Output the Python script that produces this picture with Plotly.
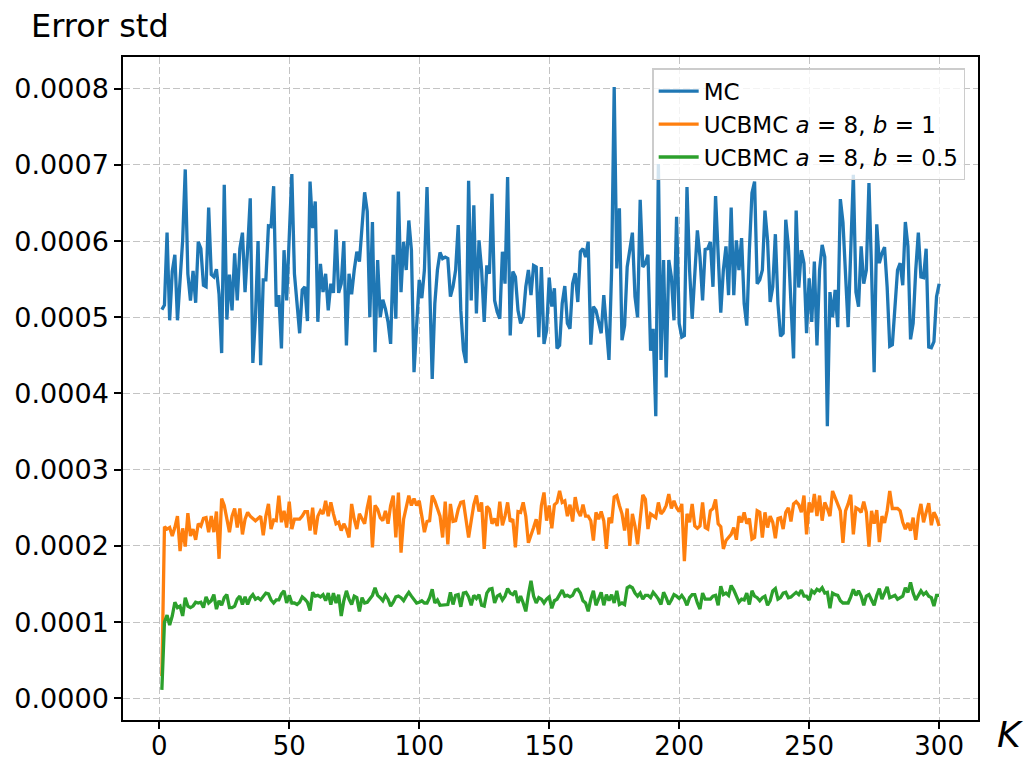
import plotly.graph_objects as go

K = list(range(1, 301))
SCALE = 1e-4  # values below are in units of 1e-4

mc = [
5.10,5.16,6.11,4.96,5.60,5.82,4.96,5.53,6.01,6.94,
5.57,5.22,5.61,5.19,5.99,5.90,5.42,5.40,6.44,5.56,
5.53,5.63,5.30,4.53,6.74,4.97,5.56,5.09,5.84,5.22,
5.90,6.11,5.33,5.90,6.56,4.40,5.00,6.00,4.37,5.49,
5.49,6.20,6.19,6.72,5.14,5.29,4.59,5.88,5.22,6.05,
6.88,5.57,5.18,4.79,5.36,5.40,4.95,6.78,6.17,6.52,
4.94,5.70,5.33,5.57,5.09,5.44,5.32,6.15,5.32,5.44,
6.00,4.63,5.57,5.30,5.62,5.86,5.73,6.23,6.64,6.39,
5.00,6.25,4.54,5.75,5.00,5.23,5.11,4.94,4.65,5.82,
4.98,6.65,5.33,5.99,5.62,6.27,5.88,4.28,4.92,5.49,
5.25,5.62,6.71,5.40,4.19,5.18,5.62,5.85,5.77,5.79,
5.77,5.27,5.40,5.62,6.21,5.09,4.57,4.40,6.79,5.22,
6.47,5.05,6.01,5.62,4.94,5.68,5.57,6.62,5.22,5.07,
4.98,5.86,5.44,6.84,4.76,5.60,5.53,5.09,4.92,5.00,
5.40,5.62,5.29,5.68,5.66,4.74,5.66,4.65,4.83,5.52,
5.14,5.38,4.59,4.63,5.18,5.41,4.92,4.85,5.44,5.58,
5.20,5.86,5.90,5.79,5.99,4.64,5.14,5.09,4.92,4.79,
5.29,4.83,4.44,5.60,8.02,5.64,6.43,4.70,4.89,5.66,
5.86,6.11,5.27,5.00,6.54,5.66,5.71,5.82,4.56,4.85,
3.70,7.01,4.44,5.75,4.21,5.75,5.53,4.96,6.32,4.92,
4.74,4.76,6.71,5.62,4.98,5.66,6.14,5.79,5.22,5.89,
5.90,5.99,5.40,6.59,5.71,5.06,5.62,5.93,5.29,6.44,
5.29,6.01,5.62,6.04,5.18,4.89,5.88,6.63,6.78,5.44,
5.49,5.62,6.40,6.01,5.20,5.40,6.09,5.18,4.75,4.79,
6.28,5.93,5.18,4.46,6.40,5.39,5.88,5.71,4.79,5.51,
4.94,5.73,4.63,5.62,5.95,5.79,3.57,5.33,5.00,5.36,
4.87,6.55,6.25,5.62,4.87,5.88,6.87,5.33,5.14,5.93,
5.44,5.62,6.76,5.62,4.28,6.22,5.71,5.84,5.92,5.40,
4.62,4.64,5.18,5.62,5.71,5.42,6.25,5.93,4.71,4.92,
5.62,6.11,5.53,5.52,5.90,4.61,4.60,4.68,5.27,5.44,
]

ucb_b1 = [
0.29,2.25,2.22,2.24,2.13,2.24,2.39,1.93,2.23,1.99,
2.43,2.13,2.22,2.08,2.29,2.26,2.36,2.37,2.18,2.39,
2.18,2.45,1.83,2.62,2.53,2.33,2.18,2.39,2.49,2.24,
2.49,2.15,2.35,2.44,2.39,2.36,2.33,2.36,2.39,2.14,
2.39,2.55,2.22,2.34,2.33,2.66,2.31,2.46,2.24,2.58,
2.22,2.35,2.35,2.35,2.39,2.45,2.45,2.20,2.50,2.15,
2.39,2.46,2.42,2.59,2.39,2.57,2.42,2.29,2.31,2.20,
2.29,2.22,2.11,2.55,2.35,2.22,2.42,2.35,2.29,2.50,
2.66,1.98,2.53,2.48,2.37,2.33,2.46,2.29,2.53,2.66,
2.11,2.70,1.91,2.35,2.53,2.66,2.53,2.62,2.53,2.59,
2.39,2.18,2.32,2.33,2.66,2.59,2.49,2.39,2.11,2.58,
2.02,2.55,2.32,2.33,2.48,2.57,2.58,2.35,2.11,2.33,
2.54,2.66,2.45,2.57,1.96,2.52,2.48,2.29,2.36,2.26,
2.58,2.27,2.39,2.57,2.32,2.35,1.98,2.45,2.44,2.57,
2.39,2.04,2.13,2.24,2.35,2.15,2.53,2.70,2.33,2.53,
2.23,2.54,2.57,2.72,2.57,2.59,2.39,2.54,2.32,2.64,
2.46,2.39,2.54,2.39,2.39,2.33,2.07,2.44,2.35,2.45,
2.33,1.96,2.37,2.30,2.64,2.66,2.53,2.42,2.20,2.49,
2.00,2.42,2.26,2.02,2.35,2.67,2.61,2.22,2.42,2.39,
2.37,2.57,2.42,2.46,2.53,2.68,2.49,2.59,2.50,2.45,
2.55,1.80,2.42,2.31,2.55,2.26,2.23,2.26,2.57,2.24,
2.22,2.46,2.49,2.61,2.29,2.25,1.96,2.07,2.11,2.15,
2.24,2.08,2.39,2.31,2.44,2.29,2.36,2.09,2.11,2.46,
2.44,2.11,2.44,2.24,2.39,2.31,2.10,2.36,2.37,2.22,
2.44,2.50,2.32,2.55,2.58,2.54,2.44,2.66,2.15,2.57,
2.44,2.68,2.39,2.66,2.33,2.57,2.49,2.39,2.72,2.64,
2.55,2.46,2.04,2.46,2.55,2.67,2.15,2.50,2.48,2.44,
2.58,2.44,1.99,2.46,2.29,2.47,2.05,2.39,2.30,2.46,
2.72,2.49,2.49,2.49,2.46,2.31,2.22,2.30,2.20,2.37,
2.08,2.39,2.55,2.31,2.44,2.56,2.27,2.44,2.37,2.26,
]

ucb_b05 = [
0.11,1.00,1.09,0.96,1.08,1.26,1.19,1.21,1.08,1.32,
1.21,1.19,1.21,1.26,1.25,1.26,1.19,1.33,1.25,1.28,
1.36,1.17,1.28,1.22,1.32,1.36,1.19,1.19,1.21,1.30,
1.34,1.23,1.33,1.23,1.32,1.36,1.30,1.32,1.29,1.34,
1.38,1.37,1.29,1.25,1.29,1.29,1.37,1.41,1.25,1.35,
1.25,1.25,1.23,1.26,1.33,1.30,1.26,1.15,1.39,1.34,
1.35,1.33,1.36,1.28,1.38,1.23,1.38,1.25,1.36,1.08,
1.28,1.41,1.30,1.23,1.34,1.32,1.14,1.32,1.25,1.26,
1.30,1.35,1.45,1.35,1.32,1.28,1.35,1.30,1.21,1.26,
1.33,1.34,1.32,1.28,1.34,1.39,1.34,1.30,1.25,1.26,
1.28,1.25,1.25,1.32,1.43,1.25,1.29,1.22,1.22,1.23,
1.23,1.39,1.23,1.35,1.36,1.20,1.38,1.39,1.33,1.22,
1.35,1.31,1.36,1.22,1.21,1.38,1.43,1.44,1.25,1.34,
1.36,1.29,1.34,1.44,1.38,1.36,1.41,1.25,1.34,1.25,
1.14,1.36,1.54,1.34,1.25,1.32,1.30,1.25,1.30,1.33,
1.18,1.28,1.30,1.36,1.42,1.34,1.35,1.33,1.35,1.42,
1.43,1.38,1.28,1.25,1.14,1.30,1.41,1.22,1.32,1.39,
1.22,1.36,1.28,1.36,1.25,1.41,1.23,1.25,1.23,1.45,
1.47,1.45,1.38,1.34,1.38,1.30,1.35,1.35,1.32,1.39,
1.35,1.30,1.23,1.39,1.32,1.23,1.29,1.36,1.34,1.31,
1.35,1.30,1.22,1.32,1.36,1.36,1.25,1.17,1.38,1.30,
1.30,1.30,1.34,1.35,1.22,1.47,1.36,1.38,1.35,1.48,
1.42,1.34,1.26,1.30,1.29,1.38,1.23,1.41,1.34,1.32,
1.28,1.32,1.34,1.22,1.28,1.41,1.44,1.30,1.32,1.38,
1.39,1.32,1.33,1.36,1.39,1.36,1.42,1.34,1.34,1.29,
1.41,1.38,1.43,1.41,1.45,1.38,1.39,1.18,1.38,1.36,
1.35,1.28,1.25,1.25,1.25,1.33,1.43,1.35,1.41,1.34,
1.22,1.34,1.36,1.29,1.22,1.35,1.44,1.30,1.38,1.46,
1.32,1.34,1.35,1.30,1.32,1.34,1.45,1.39,1.52,1.38,
1.29,1.36,1.41,1.36,1.39,1.34,1.32,1.21,1.35,1.35,
]

series_names = ["MC", "UCBMC <i>a</i> = 8, <i>b</i> = 1", "UCBMC <i>a</i> = 8, <i>b</i> = 0.5"]
series_colors = ["#1f77b4", "#ff7f0e", "#2ca02c"]
x_ticks = [0, 50, 100, 150, 200, 250, 300]
y_ticks = [0.0, 0.0001, 0.0002, 0.0003, 0.0004, 0.0005, 0.0006, 0.0007, 0.0008]

fig = go.Figure()
for vals, name, col in zip([mc, ucb_b1, ucb_b05], series_names, series_colors):
    fig.add_trace(go.Scatter(
        x=K, y=[v * SCALE for v in vals], mode="lines", name=name,
        line=dict(color=col, width=3.3),
    ))

allv = [v * SCALE for v in mc + ucb_b1 + ucb_b05]
ymin, ymax = min(allv), max(allv)
ypad = 0.05 * (ymax - ymin)
xpad = 0.05 * (K[-1] - K[0])

font = "DejaVu Sans, Verdana, sans-serif"
grid = dict(showgrid=True, gridcolor="#c4c4c4", gridwidth=1.3, griddash="7px,3px")
axis_common = dict(showline=True, mirror=True, linecolor="black", linewidth=1.5,
                   ticks="outside", ticklen=7, tickwidth=1.5, tickcolor="black",
                   zeroline=False, automargin=False, **grid)
fig.update_layout(
    width=1035, height=760,
    margin=dict(l=123, r=57, t=57, b=40),
    paper_bgcolor="white", plot_bgcolor="white",
    font=dict(family=font, color="black", size=26),
    title=dict(text="Error std", x=31 / 1035, xanchor="left", xref="container",
               y=1 - 26 / 760, yanchor="middle", yref="container",
               font=dict(size=32, family=font, color="black")),
    showlegend=True,
    legend=dict(x=0.985, xanchor="right", y=0.983, yanchor="top",
                bgcolor="rgba(255,255,255,0.8)", bordercolor="#cccccc", borderwidth=1.5,
                font=dict(size=23, family=font, color="black"), itemwidth=40),
    xaxis=dict(range=[K[0] - xpad, K[-1] + xpad], tickvals=x_ticks,
               ticktext=[str(t) for t in x_ticks], tickfont=dict(size=26),
               ticklabelstandoff=-5, **axis_common),
    yaxis=dict(range=[ymin - ypad, ymax + ypad], tickvals=y_ticks,
               ticktext=[f"{t:.4f}" for t in y_ticks], tickfont=dict(size=27),
               **axis_common),
    annotations=[dict(text="<i>K</i>", x=1.037, y=-0.022, xref="paper", yref="paper",
                      xanchor="center", yanchor="middle", showarrow=False,
                      font=dict(size=36, family=font, color="black"))],
)

fig.write_html("out.html")
